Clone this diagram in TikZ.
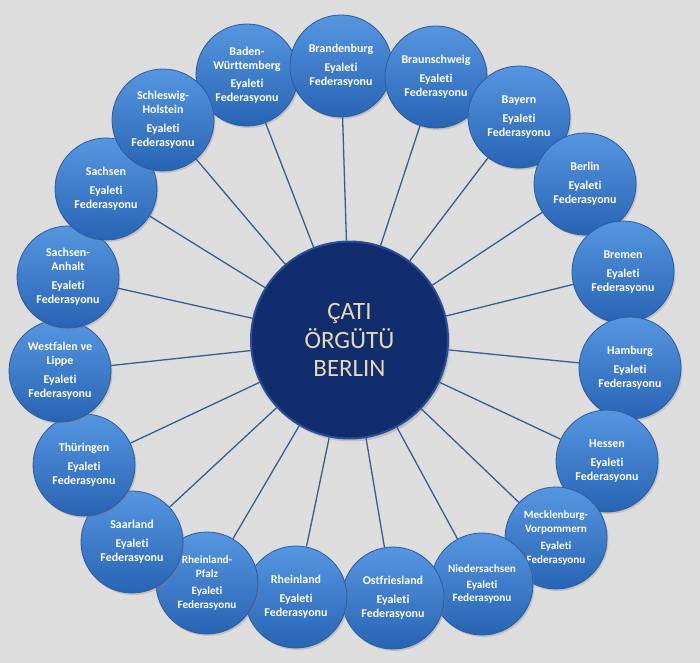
\documentclass[tikz,border=0pt]{standalone}
\usepackage{fontspec}
\newfontfamily\calib[Ligatures=NoCommon]{Carlito}
\usepackage{tikz}
\usetikzlibrary{shadows}

\definecolor{bggray}{RGB}{221,221,221}
\definecolor{navyhub}{RGB}{17,45,110}
\definecolor{navyrim}{RGB}{42,78,150}
\definecolor{balltop}{RGB}{86,150,224}
\definecolor{ballbot}{RGB}{40,100,180}
\definecolor{ballrim}{RGB}{44,92,160}
\definecolor{spokeblue}{RGB}{56,94,142}
\definecolor{hubtext}{RGB}{230,218,176}

\begin{document}
\begin{tikzpicture}[x=1bp, y=-1bp]
    \fill[bggray] (0,0) rectangle (700,663);
    \tikzstyle{fedball} = [circle, minimum size=102bp, inner sep=0pt,
        top color=balltop, bottom color=ballbot, draw=ballrim, line width=0.8bp,
        drop shadow={opacity=0.3, shadow xshift=1.5bp, shadow yshift=-2bp},
        text=white, align=center, font=\calib\bfseries\fontsize{12}{14}\selectfont]
    \tikzstyle{fedsmall} = [fedball, font=\calib\bfseries\fontsize{11.2}{13.5}\selectfont]
    \tikzstyle{spoke} = [draw=spokeblue, line width=1.3bp]
    % hub
    \node[circle, minimum size=197bp, inner sep=0pt,
        fill=navyhub, draw=navyrim, line width=2bp,
        drop shadow={opacity=0.3, shadow xshift=2bp, shadow yshift=-3bp},
        text=hubtext, align=center,
        font=\calib\fontsize{25}{29}\selectfont] at (349.5,340) (hub) {ÇATI\\ÖRGÜTÜ\\BERLIN};
    % ring of federations, clockwise
    \node[fedball] at (247,75) (bw) {Baden-\\Württemberg\\[4bp]Eyaleti\\Federasyonu};
    \node[fedball] at (341,66) (bb) {Brandenburg\\[5bp]Eyaleti\\Federasyonu};
    \node[fedball] at (436,77) (bs) {Braunschweig\\[5bp]Eyaleti\\Federasyonu};
    \node[fedball] at (519,117) (by) {Bayern\\[5bp]Eyaleti\\Federasyonu};
    \node[fedball] at (585,184) (be) {Berlin\\[5bp]Eyaleti\\Federasyonu};
    \node[fedball] at (623,272) (hb) {Bremen\\[5bp]Eyaleti\\Federasyonu};
    \node[fedball] at (630,368) (hh) {Hamburg\\[5bp]Eyaleti\\Federasyonu};
    \node[fedball] at (607,461) (he) {Hessen\\[5bp]Eyaleti\\Federasyonu};
    \node[fedsmall] at (556,538) (mv) {Mecklenburg-\\Vorpommern\\[4bp]Eyaleti\\Federasyonu};
    \node[fedsmall] at (482,584) (ni) {Niedersachsen\\[2bp]Eyaleti\\Federasyonu};
    \node[fedball] at (393,598) (of) {Ostfriesland\\[5bp]Eyaleti\\Federasyonu};
    \node[fedball] at (296,597) (rh) {Rheinland\\[5bp]Eyaleti\\Federasyonu};
    \node[fedsmall] at (207,583) (rp) {Rheinland-\\Pfalz\\[4bp]Eyaleti\\Federasyonu};
    \node[fedball] at (132,542) (sl) {Saarland\\[5bp]Eyaleti\\Federasyonu};
    \node[fedball] at (84,465) (th) {Thüringen\\[5bp]Eyaleti\\Federasyonu};
    \node[fedball] at (60,371) (wl) {Westfalen ve\\Lippe\\[5bp]Eyaleti\\Federasyonu};
    \node[fedball] at (68,277) (st) {Sachsen-\\Anhalt\\[5bp]Eyaleti\\Federasyonu};
    \node[fedball] at (106,189) (sn) {Sachsen\\[5bp]Eyaleti\\Federasyonu};
    \node[fedball] at (163,120) (sh) {Schleswig-\\Holstein\\[5bp]Eyaleti\\Federasyonu};
    % spokes
    \path[spoke] (hub) -- (bw);
    \path[spoke] (hub) -- (bb);
    \path[spoke] (hub) -- (bs);
    \path[spoke] (hub) -- (by);
    \path[spoke] (hub) -- (be);
    \path[spoke] (hub) -- (hb);
    \path[spoke] (hub) -- (hh);
    \path[spoke] (hub) -- (he);
    \path[spoke] (hub) -- (mv);
    \path[spoke] (hub) -- (ni);
    \path[spoke] (hub) -- (of);
    \path[spoke] (hub) -- (rh);
    \path[spoke] (hub) -- (rp);
    \path[spoke] (hub) -- (sl);
    \path[spoke] (hub) -- (th);
    \path[spoke] (hub) -- (wl);
    \path[spoke] (hub) -- (st);
    \path[spoke] (hub) -- (sn);
    \path[spoke] (hub) -- (sh);
\end{tikzpicture}
\end{document}
